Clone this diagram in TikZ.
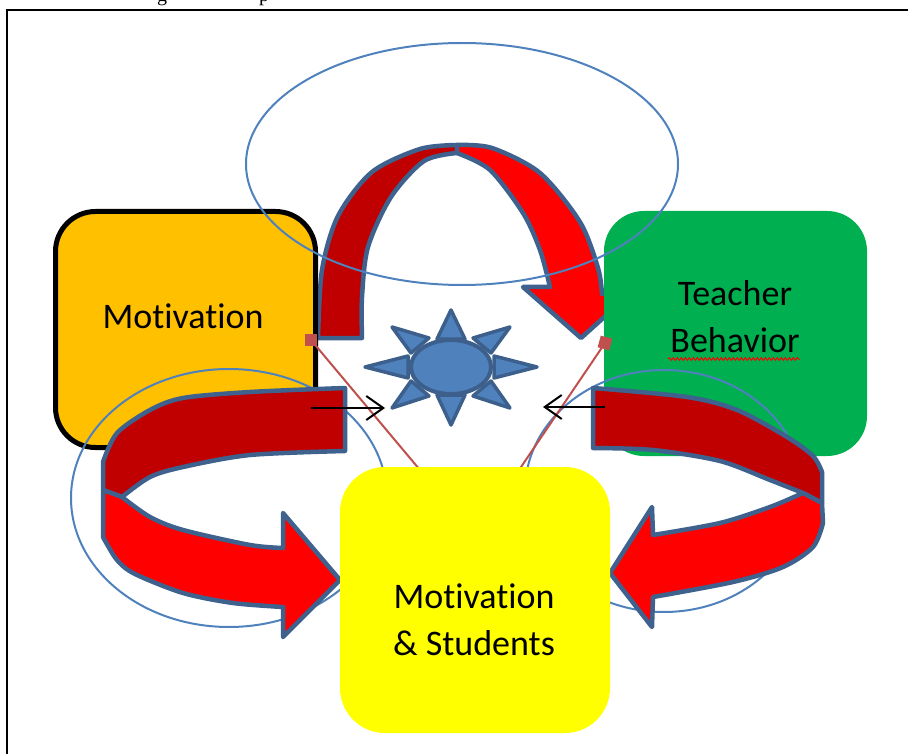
\documentclass[tikz,border=0pt]{standalone}
\usepackage{fontspec}
\setmainfont[Ligatures=NoCommon]{Carlito}
\newfontfamily\hdrfont{Liberation Serif}
\usetikzlibrary{shapes.geometric,arrows.meta,decorations.pathmorphing}
\definecolor{orng}{HTML}{FFC000}
\definecolor{grn}{HTML}{00B050}
\definecolor{ylw}{HTML}{FFFF00}
\definecolor{dred}{HTML}{C00000}
\definecolor{bred}{HTML}{FF0000}
\definecolor{rline}{HTML}{C0504D}
\definecolor{oblue}{HTML}{4F81BD}
\definecolor{arrline}{RGB}{62,97,142}
\definecolor{sunline}{RGB}{60,95,140}
\tikzset{
  boxnode/.style={rectangle, rounded corners=40pt, inner sep=0pt, align=center,
    font=\fontsize{36}{47}\selectfont},
  ribbon/.style={draw=arrline, line width=4.5pt, line join=round},
  ring/.style={draw=oblue, line width=2pt},
  redlink/.style={draw=rline, line width=2pt},
  redsq/.style={rectangle, fill=rline, minimum size=12pt, inner sep=0pt},
  pointer/.style={draw=black, line width=2pt, -{Straight Barb[length=17pt,width=24pt,line width=2pt]}},
  ray/.style={draw=sunline, fill=oblue, line width=3.5pt, line join=round},
}
\begin{document}
\begin{tikzpicture}[x=1pt,y=-1pt]
\useasboundingbox (0,0) rectangle (908,754);
% header fragments (cut off in the reference) and frame
\node[font=\hdrfont\fontsize{20}{24}\selectfont, anchor=base, inner sep=0pt] (hg) at (162,2) {g};
\node[font=\hdrfont\fontsize{20}{24}\selectfont, anchor=base, inner sep=0pt] (hp) at (264,2) {p};
\draw[line width=2pt] (910,10) -- (7,10) -- (7,760);

% top arch arrow
\path[ribbon, fill=dred] plot[smooth] coordinates {(318,338) (322,270) (338,216) (372,172) (420,149) (457,145)}
  -- (457,153) -- plot[smooth] coordinates {(457,153) (424,161) (391,197) (368,247) (362,297) (362,338)} -- cycle;
\path[ribbon, fill=bred] plot[smooth] coordinates {(457,145) (492,148) (540,173) (580,222) (598,268) (602,294)}
  -- (632,292) -- (581,338) -- (523,287) -- (550,287)
  -- plot[smooth] coordinates {(550,287) (540,250) (523,213) (490,170) (457,153)} -- cycle;

% boxes
\node[boxnode, fill=orng, draw=black, line width=5pt, minimum width=260pt, minimum height=236pt] (mot) at (185.5,329.5) {};
\node[boxnode, fill=grn, minimum width=263pt, minimum height=245pt] (tch) at (735.5,333.5) {};
\node[font=\fontsize{36}{47}\selectfont, inner sep=0pt] (motT) at (183,316.5) {Motivation};
\node[font=\fontsize{36}{47}\selectfont, inner sep=0pt, align=center] (tchT) at (735,317) {Teacher\\Behavior};
\draw[bred, line width=1pt, decorate, decoration={snake, amplitude=1.3pt, segment length=4pt}] (668,359) -- (800,359);

% ellipses
\draw[ring] (229,498) ellipse [x radius=158pt, y radius=129pt];
\draw[ring] (664,491) ellipse [x radius=139pt, y radius=121pt];
\draw[ring] (462,164) ellipse [x radius=216pt, y radius=121pt];

% left bottom arrow
\path[ribbon, fill=dred] plot[smooth] coordinates {(345,388) (250,392) (183,398) (150,410) (117,433) (103,462)}
  -- (103,490) -- (122,497) -- plot[smooth] coordinates {(122,497) (150,477) (183,467) (250,455) (345,451)} -- cycle;
\path[ribbon, fill=bred] (103,490) -- plot[smooth] coordinates {(103,537) (117,560) (135,574) (183,593) (233,603) (283,607)}
  -- (283,637) -- (340,580) -- (283,513) -- (283,548)
  -- plot[smooth] coordinates {(283,548) (250,545) (183,530) (150,517) (122,497)} -- cycle;

% right bottom arrow
\path[ribbon, fill=dred] plot[smooth] coordinates {(593,388) (687,397) (737,410) (787,437) (813,456) (822,472)}
  -- (822,503) -- (803,493) -- plot[smooth] coordinates {(803,493) (770,480) (720,461) (653,450) (593,448)} -- cycle;
\path[ribbon, fill=bred] plot[smooth] coordinates {(803,493) (770,507) (720,523) (653,535)}
  -- (652,507) -- (610,573) -- (652,627) -- (653,597)
  -- plot[smooth] coordinates {(653,597) (733,582) (783,567) (813,547) (823,523)} -- (822,503) -- cycle;

% red links
\node[redsq] (sqL) at (311,340) {};
\node[redsq, rotate=-15] (sqR) at (605,343) {};
\coordinate (lkL) at (420,470);
\coordinate (lkR) at (519,470);
\draw[redlink] (sqL.center) -- (lkL);
\draw[redlink] (sqR.center) -- (lkR);

% yellow box
\node[boxnode, fill=ylw, rounded corners=45pt, minimum width=270pt, minimum height=266pt] (stu) at (475,600) {};
\node[font=\fontsize{36}{47}\selectfont, inner sep=0pt, align=center] (stuT) at (474,620) {Motivation\\\& Students};

% black pointers
\coordinate (pL1) at (311,408);
\coordinate (pL2) at (385,408);
\coordinate (pR1) at (605,407);
\coordinate (pR2) at (543,407);
\draw[pointer] (pL1) -- (pL2);
\draw[pointer] (pR1) -- (pR2);

% sun
\path[ray] (451,310) -- (437,339) -- (465,339) -- cycle;
\path[ray] (510,327) -- (473,338) -- (491,353) -- cycle;
\path[ray] (537,367) -- (494,356) -- (494,378) -- cycle;
\path[ray] (510,408) -- (491,381) -- (473,396) -- cycle;
\path[ray] (451,425) -- (437,395) -- (465,395) -- cycle;
\path[ray] (392,408) -- (411,381) -- (429,396) -- cycle;
\path[ray] (365,367) -- (408,356) -- (408,378) -- cycle;
\path[ray] (392,327) -- (429,338) -- (411,353) -- cycle;
\node[ellipse, draw=sunline, fill=oblue, line width=4pt, minimum width=80pt, minimum height=54pt, inner sep=0pt] (sun) at (451,367) {};
\end{tikzpicture}
\end{document}
